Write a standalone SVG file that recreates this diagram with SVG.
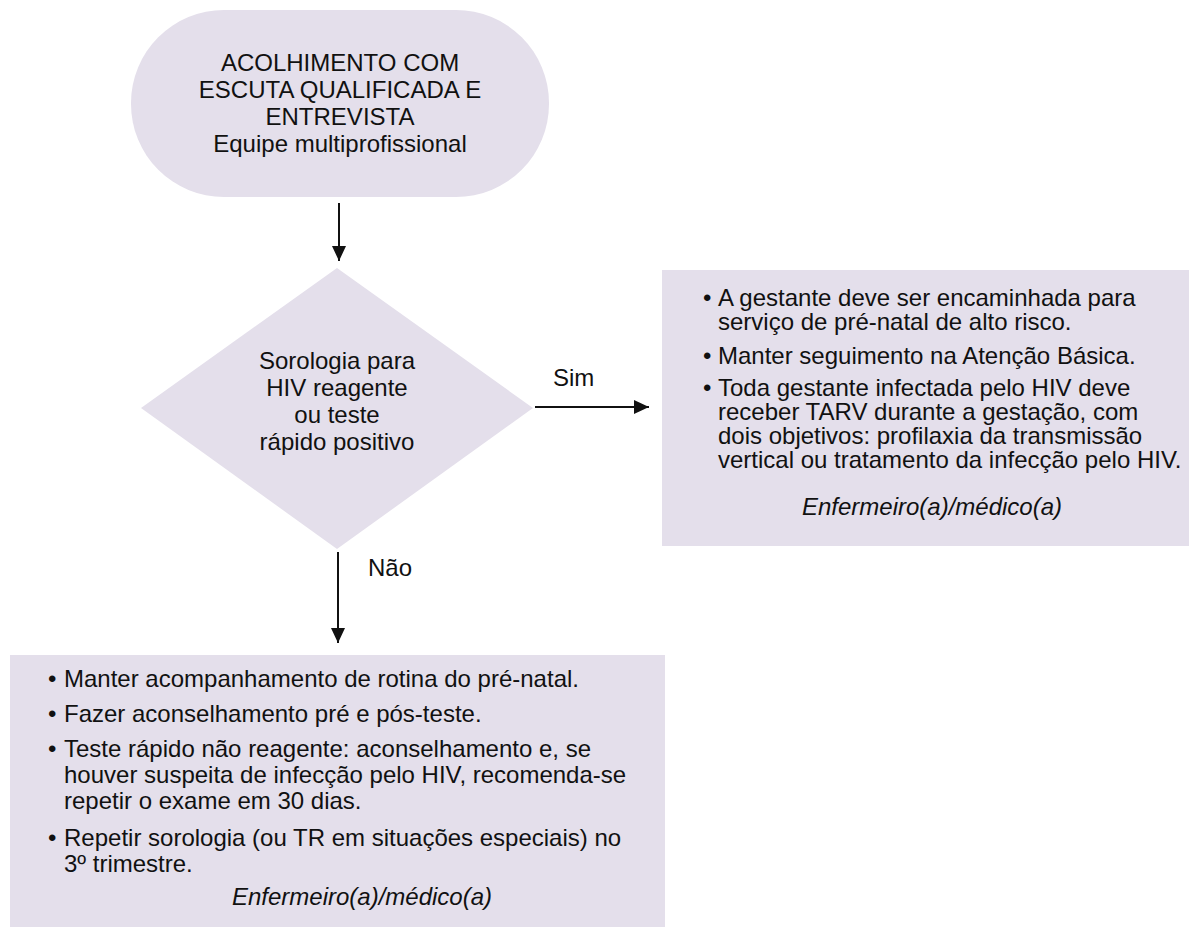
<svg xmlns="http://www.w3.org/2000/svg" width="1189" height="928" viewBox="0 0 1189 928">
<defs>
<style>
.shape{fill:#e4dfeb;stroke:none}
text{font-family:"Liberation Sans",Arial,sans-serif;font-size:24px;fill:#111}
.c{text-anchor:middle}
.i{font-style:italic}
.edge{stroke:#111;stroke-width:2;fill:none}
</style>
<marker id="ah" viewBox="0 0 15 14" refX="15" refY="7" markerWidth="15" markerHeight="14" markerUnits="userSpaceOnUse" orient="auto">
<path d="M0,0 L15,7 L0,14 z" fill="#111"/>
</marker>
</defs>
<rect width="1189" height="928" fill="#fff"/>
<g id="start">
<rect class="shape" x="131" y="10" width="418" height="187" rx="93" ry="93"/>
<text class="c" x="340" y="71">ACOLHIMENTO COM</text>
<text class="c" x="340" y="98">ESCUTA QUALIFICADA E</text>
<text class="c" x="340" y="125">ENTREVISTA</text>
<text class="c" x="340" y="152">Equipe multiprofissional</text>
</g>
<g id="decision">
<polygon class="shape" points="337,268 533,408 337,549 141,408"/>
<text class="c" x="337" y="369">Sorologia para</text>
<text class="c" x="337" y="396">HIV reagente</text>
<text class="c" x="337" y="423">ou teste</text>
<text class="c" x="337" y="450">rápido positivo</text>
</g>
<g id="sim-box">
<rect class="shape" x="662" y="270" width="527" height="276"/>
<text x="703" y="306">•</text><text x="718" y="306">A gestante deve ser encaminhada para</text>
<text x="718" y="330">serviço de pré-natal de alto risco.</text>
<text x="703" y="364">•</text><text x="718" y="364">Manter seguimento na Atenção Básica.</text>
<text x="703" y="396">•</text><text x="718" y="396">Toda gestante infectada pelo HIV deve</text>
<text x="718" y="420">receber TARV durante a gestação, com</text>
<text x="718" y="444">dois objetivos: profilaxia da transmissão</text>
<text x="718" y="468">vertical ou tratamento da infecção pelo HIV.</text>
<text class="c i" x="932" y="515">Enfermeiro(a)/médico(a)</text>
</g>
<g id="nao-box">
<rect class="shape" x="10" y="655" width="655" height="272"/>
<text x="48" y="687">•</text><text x="64" y="687">Manter acompanhamento de rotina do pré-natal.</text>
<text x="48" y="722">•</text><text x="64" y="722">Fazer aconselhamento pré e pós-teste.</text>
<text x="48" y="757">•</text><text x="64" y="757">Teste rápido não reagente: aconselhamento e, se</text>
<text x="64" y="783">houver suspeita de infecção pelo HIV, recomenda-se</text>
<text x="64" y="809">repetir o exame em 30 dias.</text>
<text x="48" y="846">•</text><text x="64" y="846">Repetir sorologia (ou TR em situações especiais) no</text>
<text x="64" y="872">3º trimestre.</text>
<text class="c i" x="362" y="905">Enfermeiro(a)/médico(a)</text>
</g>
<g id="connectors">
<line class="edge" x1="339" y1="203" x2="339" y2="261" marker-end="url(#ah)"/>
<line class="edge" x1="535" y1="407" x2="649" y2="407" marker-end="url(#ah)"/>
<text x="553" y="386">Sim</text>
<line class="edge" x1="338" y1="552" x2="338" y2="643" marker-end="url(#ah)"/>
<text x="368" y="576">Não</text>
</g>
</svg>
